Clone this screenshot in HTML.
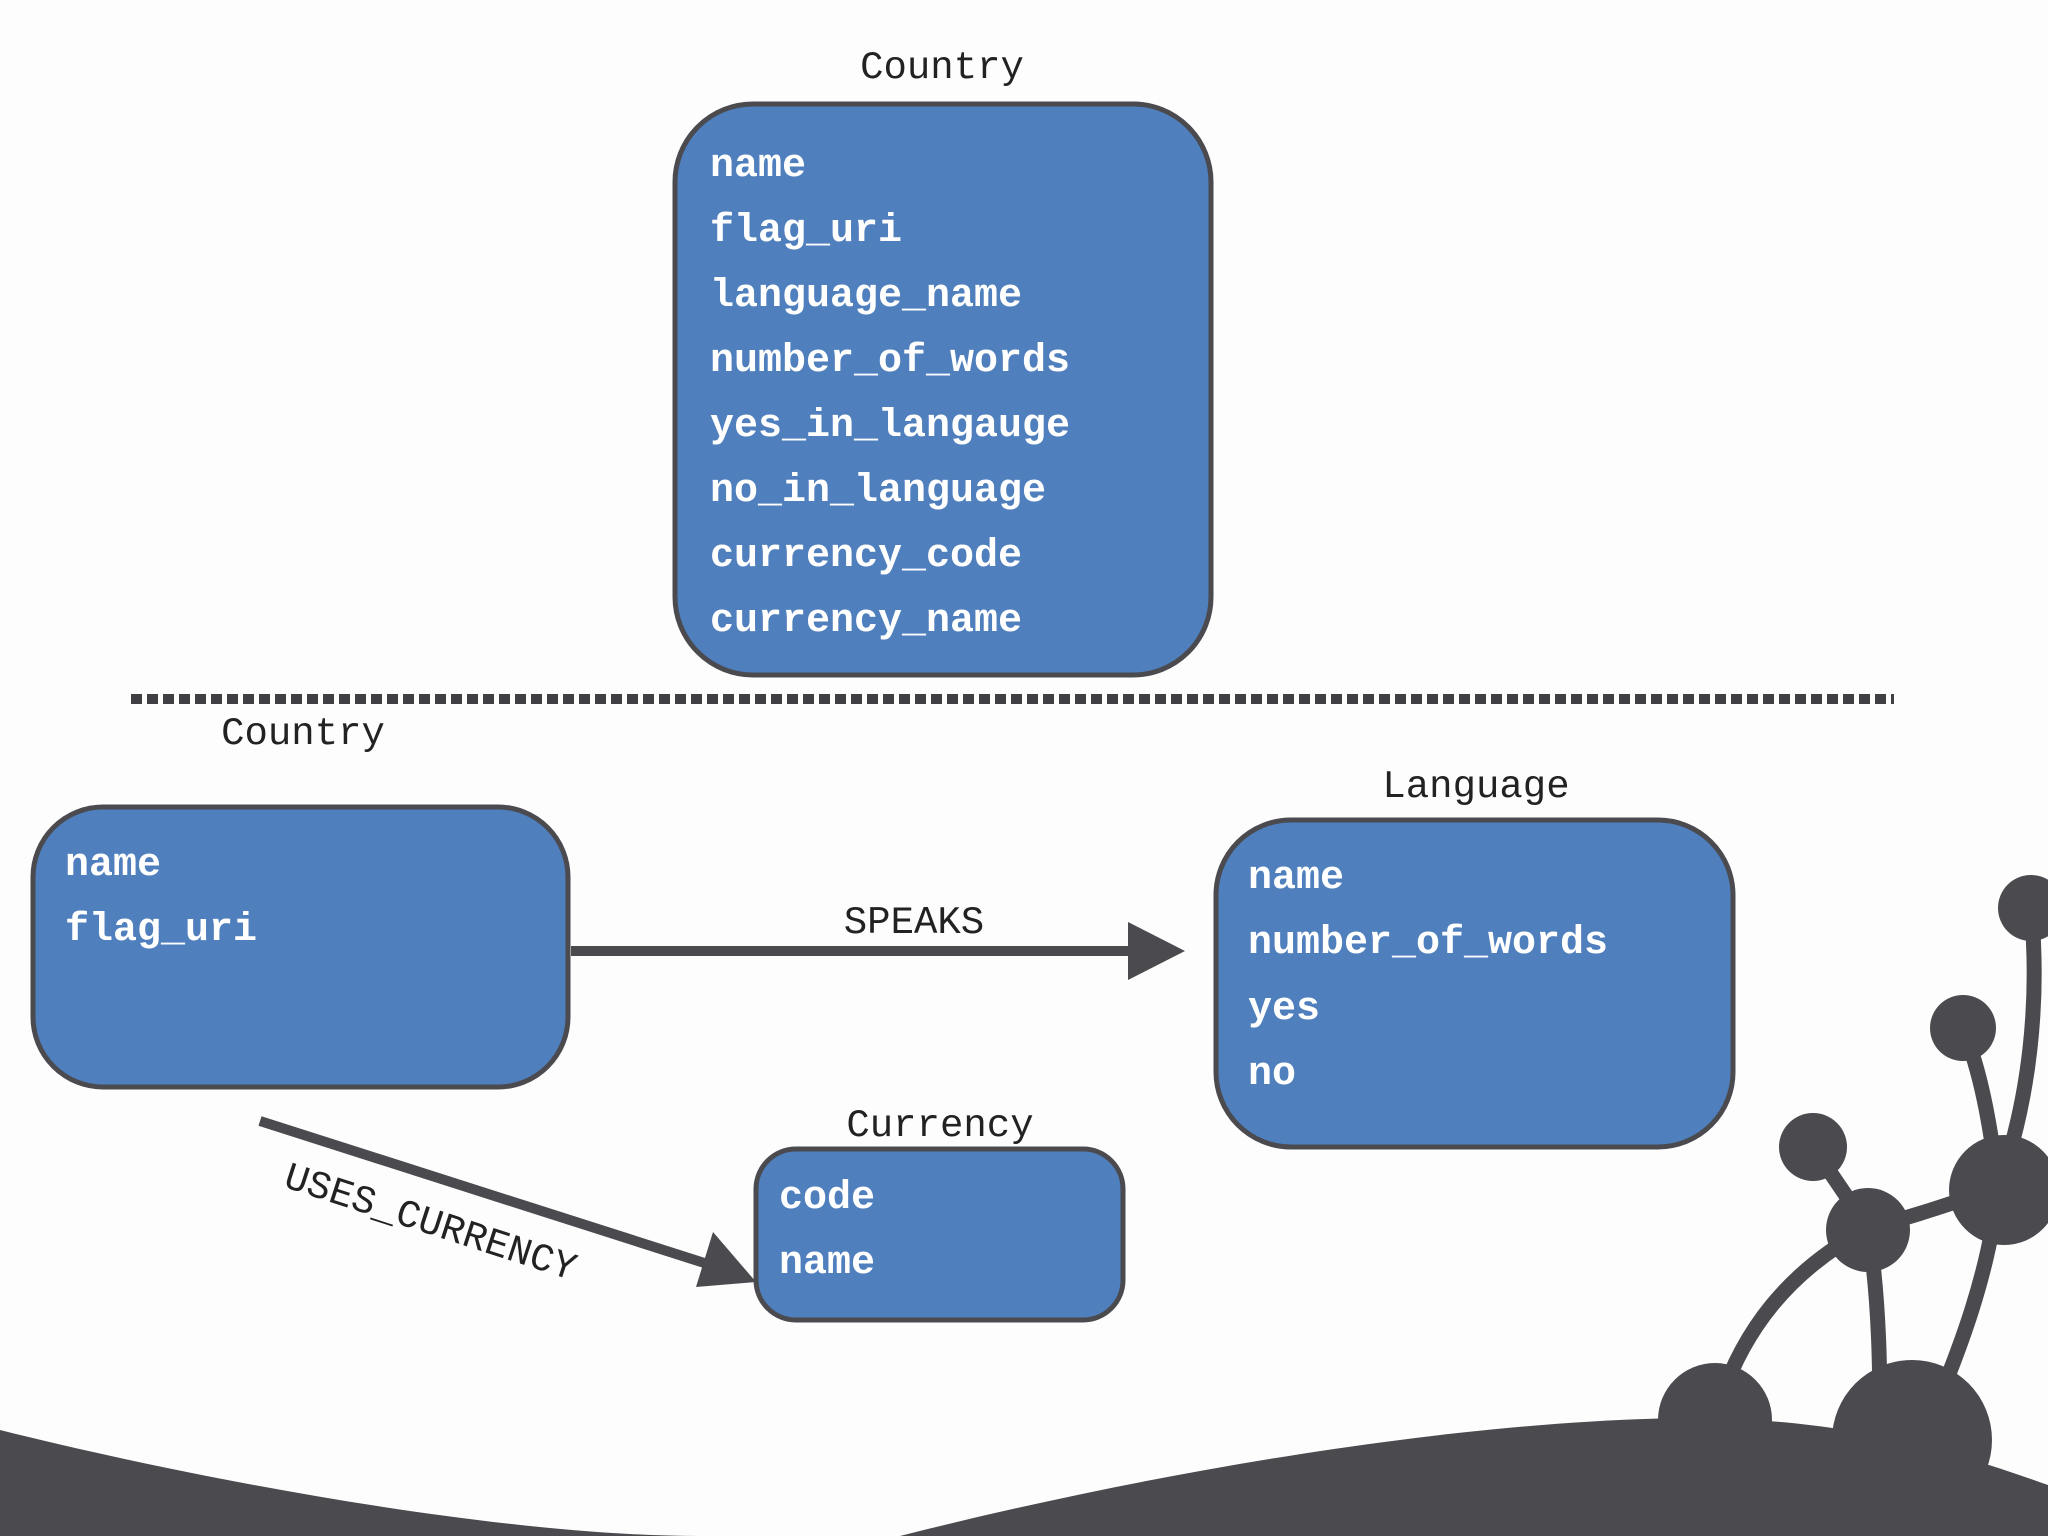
<!DOCTYPE html>
<html><head><meta charset="utf-8"><style>
html,body{margin:0;padding:0;background:#fdfdfd;}
body{width:2048px;height:1536px;position:relative;overflow:hidden;font-family:"Liberation Mono",monospace;}
</style></head><body>
<svg width="2048" height="1536" viewBox="0 0 2048 1536" xmlns="http://www.w3.org/2000/svg" style="position:absolute;left:0;top:0">
<rect width="2048" height="1536" fill="#fdfdfd"/>
<g fill="#4a4a4f">
<path d="M0,1430 C200,1480 500,1536 700,1536 L900,1536 C1200,1460 1500,1418 1700,1418 C1850,1420 1950,1450 2048,1485 L2048,1536 L0,1536 Z"/>
</g>
<g stroke="#4a4a4f" stroke-width="15" fill="none" stroke-linecap="round">
<path d="M1715,1417 C1740,1330 1790,1270 1868,1228"/>
<path d="M1868,1228 C1880,1300 1880,1380 1880,1430"/>
<path d="M1868,1228 L1813,1147"/>
<path d="M1868,1228 C1920,1215 1960,1200 1998,1188"/>
<path d="M1998,1188 C1990,1270 1960,1350 1930,1420"/>
<path d="M1998,1188 C1990,1120 1980,1070 1963,1028"/>
<path d="M1998,1188 C2030,1100 2040,1000 2031,908"/>
</g>
<g fill="#4a4a4f">
<circle cx="1715" cy="1420" r="57"/>
<circle cx="1912" cy="1440" r="80"/>
<circle cx="1868" cy="1230" r="42"/>
<circle cx="2004" cy="1190" r="55"/>
<circle cx="1813" cy="1147" r="34"/>
<circle cx="1963" cy="1028" r="33"/>
<circle cx="2031" cy="908" r="33"/>
</g>
<line x1="131" y1="699" x2="1894" y2="699" stroke="#3f3f44" stroke-width="10" stroke-dasharray="11 5"/>
<g font-family="Liberation Mono, monospace" font-size="39" fill="#222" text-anchor="middle">
<text x="942" y="78">Country</text>
<text x="303" y="744">Country</text>
<text x="1476" y="797">Language</text>
<text x="940" y="1136">Currency</text>
<text x="914" y="933">SPEAKS</text>
<text x="431" y="1234" transform="rotate(18 431 1221)">USES_CURRENCY</text>
</g>
<g fill="#4f7fbd" stroke="#4a4a4f" stroke-width="5">
<rect x="675" y="104" width="536" height="571" rx="78"/>
<rect x="33" y="807" width="535" height="280" rx="70"/>
<rect x="1216" y="820" width="517" height="327" rx="75"/>
<rect x="756" y="1149" width="367" height="171" rx="40"/>
</g>
<g stroke="#4a4a4f" stroke-width="10">
<line x1="571" y1="951" x2="1135" y2="951"/>
<line x1="260" y1="1121" x2="720" y2="1268"/>
</g>
<polygon points="1128,922 1185,951 1128,980" fill="#4a4a4f"/>
<polygon points="713,1232 756,1282 696,1287" fill="#4a4a4f"/>
<g font-family="Liberation Mono, monospace" font-weight="bold" font-size="40" fill="#fff">
<text x="710" y="176">name</text>
<text x="710" y="241">flag_uri</text>
<text x="710" y="306">language_name</text>
<text x="710" y="371">number_of_words</text>
<text x="710" y="436">yes_in_langauge</text>
<text x="710" y="501">no_in_language</text>
<text x="710" y="566">currency_code</text>
<text x="710" y="631">currency_name</text>
<text x="65" y="875">name</text>
<text x="65" y="940">flag_uri</text>
<text x="1248" y="888">name</text>
<text x="1248" y="953">number_of_words</text>
<text x="1248" y="1019">yes</text>
<text x="1248" y="1084">no</text>
<text x="779" y="1208">code</text>
<text x="779" y="1273">name</text>
</g>
</svg>
</body></html>
